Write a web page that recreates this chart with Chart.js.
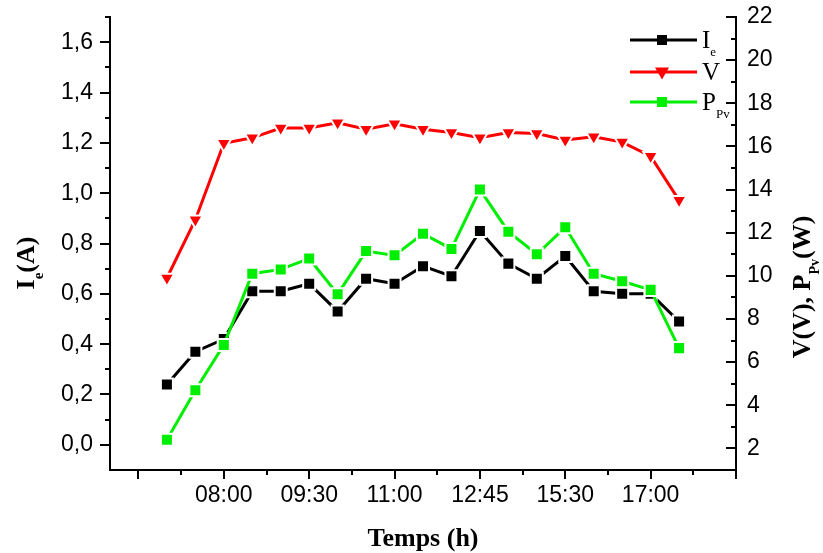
<!DOCTYPE html>
<html lang="fr">
<head>
<meta charset="UTF-8">
<title>Ie, V, Ppv</title>
<script src="https://cdn.jsdelivr.net/npm/chart.js"></script>
<style>
  body { margin: 0; background: #fff; }
  #wrap { width: 823px; height: 553px; }
</style>
</head>
<body>
<div id="wrap">
  <canvas id="myChart" width="823" height="553"></canvas>
</div>
<script>
  // hours printed under the time axis and the measurement index they sit on
  const hourLabels = ['08:00', '09:30', '11:00', '12:45', '15:30', '17:00'];
  const hourIndex = [2, 5, 8, 11, 14, 17];

  // Ie (A), left axis
  const courant = [0.24, 0.37, 0.42, 0.61, 0.61, 0.64, 0.53, 0.66, 0.64, 0.71,
                   0.67, 0.85, 0.72, 0.66, 0.75, 0.61, 0.60, 0.60, 0.49];
  // V (V), right axis
  const tension = [9.9, 12.6, 16.15, 16.4, 16.85, 16.85, 17.1, 16.8, 17.05, 16.8,
                   16.65, 16.4, 16.65, 16.6, 16.3, 16.45, 16.2, 15.55, 13.5];
  // Ppv (W), right axis
  const puissance = [2.4, 4.7, 6.8, 10.1, 10.3, 10.8, 9.15, 11.15, 10.95, 11.95,
                     11.25, 14.0, 12.05, 11.0, 12.25, 10.1, 9.75, 9.35, 6.65];

  const leftTicks = [0, 0.2, 0.4, 0.6, 0.8, 1.0, 1.2, 1.4, 1.6];
  const rightTicks = [2, 4, 6, 8, 10, 12, 14, 16, 18, 20, 22];

  const RED = '#ff0000';
  const GREEN = '#00ee00';
  const SERIF = '"Liberation Serif", "Times New Roman", serif';
  const SANS = '"Liberation Sans", Arial, sans-serif';

  function toPoints(arr) {
    return arr.map((v, i) => ({ x: i, y: v }));
  }

  // x ticks every 3 measurements, unlabelled at both ends
  const xMajor = [-1].concat(hourIndex, [20]);
  const xMinor = xMajor.slice(0, -1).map(v => v + 1.5);
  const leftMinor = leftTicks.map(v => v + 0.1);
  const rightMinor = rightTicks.slice(0, -1).map(v => v + 1);

  function series(label, data, color, style, axis, order) {
    return {
      label: label,
      data: toPoints(data),
      yAxisID: axis,
      order: order,
      borderColor: color,
      backgroundColor: color,
      borderWidth: 3,
      pointStyle: style,
      pointRotation: style === 'triangle' ? 180 : 0,
      pointRadius: 8.5,
      pointBackgroundColor: color,
      pointBorderColor: '#fff',
      pointBorderWidth: 2,
      tension: 0
    };
  }

  // draw text made of pieces, some of them lowered as subscripts
  function richText(ctx, parts, x, y, size, subSize, bold, align) {
    const w = bold ? 'bold ' : '';
    let total = 0;
    parts.forEach(p => {
      ctx.font = w + (p.sub ? subSize : size) + 'px ' + SERIF;
      p.w = ctx.measureText(p.t).width;
      total += p.w;
    });
    let cx = align === 'center' ? x - total / 2 : x;
    ctx.textBaseline = 'alphabetic';
    ctx.textAlign = 'left';
    parts.forEach(p => {
      ctx.font = w + (p.sub ? subSize : size) + 'px ' + SERIF;
      ctx.fillText(p.t, cx, p.sub ? y + size * 0.33 : y);
      cx += p.w;
    });
  }

  function marker(ctx, style, color, x, y) {
    ctx.fillStyle = color;
    ctx.beginPath();
    if (style === 'rect') {
      ctx.rect(x - 5, y - 5, 10, 10);
    } else {
      ctx.moveTo(x - 7, y - 4.5);
      ctx.lineTo(x + 7, y - 4.5);
      ctx.lineTo(x, y + 7.5);
      ctx.closePath();
    }
    ctx.fill();
  }

  // no extra room for half labels above and below the value axes
  function fitY(width) {
    return s => {
      s.width = width;
      s.paddingTop = 0;
      s.paddingBottom = 0;
    };
  }

  const framePlugin = {
    id: 'frame',
    afterDatasetsDraw(chart) {
      const ctx = chart.ctx;
      const a = chart.chartArea;
      const sx = chart.scales.x, sl = chart.scales.y, sr = chart.scales.y1;
      ctx.save();
      ctx.strokeStyle = '#000';
      ctx.lineWidth = 2;
      ctx.lineCap = 'square';
      ctx.beginPath();
      ctx.moveTo(a.left, a.top);
      ctx.lineTo(a.left, a.bottom);
      ctx.lineTo(a.right, a.bottom);
      ctx.lineTo(a.right, a.top);
      ctx.stroke();

      ctx.lineCap = 'butt';
      ctx.beginPath();
      // time axis, ticks pointing down
      xMajor.forEach(v => {
        const px = Math.round(sx.getPixelForValue(v));
        ctx.moveTo(px, a.bottom); ctx.lineTo(px, a.bottom + 9);
      });
      xMinor.forEach(v => {
        const px = Math.round(sx.getPixelForValue(v));
        ctx.moveTo(px, a.bottom); ctx.lineTo(px, a.bottom + 5);
      });
      // left axis, ticks pointing out
      leftTicks.forEach(v => {
        const py = Math.round(sl.getPixelForValue(v));
        ctx.moveTo(a.left, py); ctx.lineTo(a.left - 10, py);
      });
      leftMinor.forEach(v => {
        const py = Math.round(sl.getPixelForValue(v));
        ctx.moveTo(a.left, py); ctx.lineTo(a.left - 5, py);
      });
      // right axis, ticks pointing in
      rightTicks.forEach(v => {
        const py = Math.round(sr.getPixelForValue(v));
        ctx.moveTo(a.right, py); ctx.lineTo(a.right - 10, py);
      });
      rightMinor.forEach(v => {
        const py = Math.round(sr.getPixelForValue(v));
        ctx.moveTo(a.right, py); ctx.lineTo(a.right - 5, py);
      });
      ctx.stroke();

      ctx.fillStyle = '#000';
      // axis titles
      richText(ctx, [{ t: 'Temps (h)' }], 423, 546, 26, 15, true, 'center');

      ctx.save();
      ctx.translate(34, 263);
      ctx.rotate(-Math.PI / 2);
      richText(ctx, [{ t: 'I' }, { t: 'e', sub: true }, { t: '(A)' }], 0, 0, 26, 15, true, 'center');
      ctx.restore();

      ctx.save();
      ctx.translate(810, 287);
      ctx.rotate(-Math.PI / 2);
      richText(ctx, [{ t: 'V(V), P' }, { t: 'Pv', sub: true }, { t: '(W)' }], 0, 0, 26, 14, true, 'center');
      ctx.restore();

      // legend
      const rows = [
        { y: 40, color: '#000', style: 'rect', parts: [{ t: 'I' }, { t: 'e', sub: true }] },
        { y: 72, color: RED, style: 'triangle', parts: [{ t: 'V' }] },
        { y: 102, color: GREEN, style: 'rect', parts: [{ t: 'P' }, { t: 'Pv', sub: true }] }
      ];
      rows.forEach(r => {
        ctx.strokeStyle = r.color;
        ctx.lineWidth = 3;
        ctx.beginPath();
        ctx.moveTo(630, r.y); ctx.lineTo(697, r.y);
        ctx.stroke();
        marker(ctx, r.style, r.color, 662, r.y);
        ctx.fillStyle = '#000';
        richText(ctx, r.parts, 702, r.y + 8, 25, 13, false, 'left');
      });
      ctx.restore();
    }
  };

  const config = {
    type: 'line',
    data: {
      datasets: [
        series('Ie', courant, '#000', 'rect', 'y', 1),
        series('V', tension, RED, 'triangle', 'y1', 2),
        series('PPv', puissance, GREEN, 'rect', 'y1', 0)
      ]
    },
    options: {
      responsive: false,
      animation: false,
      layout: { padding: { top: 17, left: 0, right: 0, bottom: 0 } },
      plugins: {
        legend: { display: false },
        tooltip: { enabled: false }
      },
      scales: {
        x: {
          type: 'linear',
          min: -2,
          max: 20,
          grid: { display: false, drawTicks: false },
          border: { display: false },
          afterBuildTicks: s => { s.ticks = xMajor.map(v => ({ value: v })); },
          afterFit: s => { s.height = 83; s.paddingLeft = 0; s.paddingRight = 0; },
          ticks: {
            padding: 12,
            autoSkip: false,
            maxRotation: 0,
            color: '#000',
            font: { family: SANS, size: 23 },
            callback: v => {
              const k = hourIndex.indexOf(v);
              return k >= 0 ? hourLabels[k] : '';
            }
          }
        },
        y: {
          position: 'left',
          min: -0.1,
          max: 1.7,
          grid: { display: false, drawTicks: false },
          border: { display: false },
          afterBuildTicks: s => { s.ticks = leftTicks.map(v => ({ value: v })); },
          afterFit: fitY(110),
          ticks: {
            padding: 17,
            color: '#000',
            font: { family: SANS, size: 23 },
            callback: v => v.toFixed(1).replace('.', ',')
          }
        },
        y1: {
          position: 'right',
          min: 1,
          max: 22,
          grid: { display: false, drawTicks: false },
          border: { display: false },
          afterBuildTicks: s => { s.ticks = rightTicks.map(v => ({ value: v })); },
          afterFit: fitY(87),
          ticks: {
            padding: 11,
            color: '#000',
            font: { family: SANS, size: 23 },
            callback: v => String(v)
          }
        }
      }
    },
    plugins: [framePlugin]
  };

  const myChart = new Chart(document.getElementById('myChart'), config);
</script>
</body>
</html>
